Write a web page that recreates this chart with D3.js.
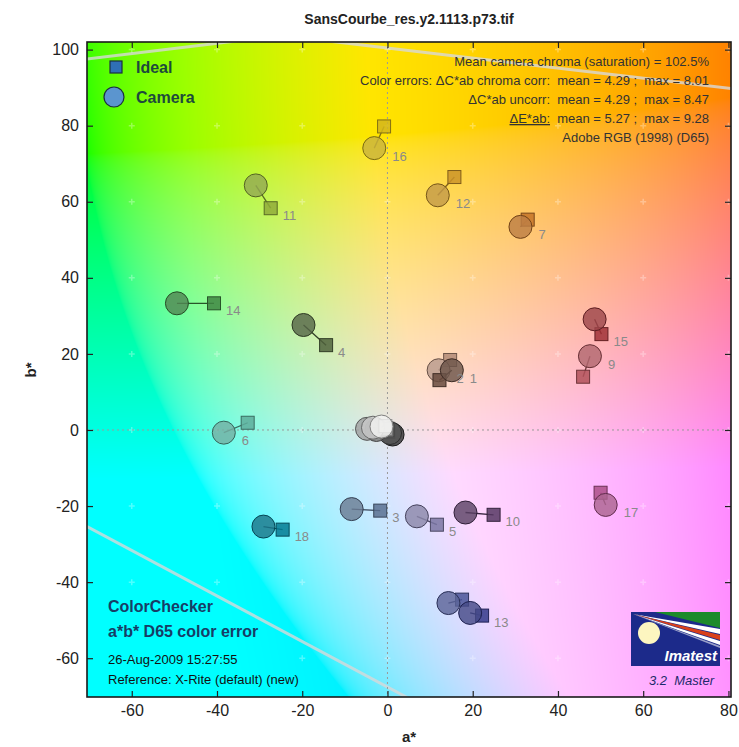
<!DOCTYPE html>
<html lang="en">
<head>
	<meta charset="UTF-8">
	<script src="https://cdnjs.cloudflare.com/ajax/libs/d3/7.8.5/d3.min.js"></script>
	<title>a*b* color error</title>
	<style>
		body { margin: 0; background: #fff; }
		svg { display: block; font-family: "Liberation Sans", Arial, sans-serif; }
		.tick text { font-family: "Liberation Sans Narrow", "Liberation Sans", sans-serif; font-size: 16px; fill: #222; }
		.tick line { stroke: #222; stroke-width: 1.2; }
		.lbl { font-size: 13px; fill: #8a8a8a; }
		.info { font-size: 13px; fill: #333; }
	</style>
</head>
<body>
	<svg width="739" height="747"></svg>

	<script>
		// ColorChecker patches, values
		const patchIds = d3.range(1, 25);
		const idealA  = [12.2, 14.7, -1.7, -14.4, 11.6, -32.8, 32.9, 17.5, 45.9, 24.9, -27.4, 15.7, 22.2, -40.7, 50.2, -0.8, 50.0, -24.6, -0.5, -0.4, -0.3, 0.0, 0.0, 0.2];
		const idealB  = [13.1, 18.4, -21.2, 22.3, -24.9, 1.9, 55.3, -44.6, 14.0, -22.3, 58.3, 66.5, -48.8, 33.3, 25.2, 79.8, -16.5, -26.2, 1.0, 0.3, 0.0, 0.0, -0.3, -0.5];
		const cameraA = [15.1, 12.0, -8.4, -19.7, 6.9, -38.4, 31.2, 14.3, 47.5, 18.3, -30.9, 11.8, 19.4, -49.4, 48.6, -3.1, 51.2, -29.1, -1.4, -3.4, -4.8, -2.6, 0.6, 1.2];
		const cameraB = [15.7, 15.7, -20.8, 27.6, -22.7, -0.7, 53.4, -45.5, 19.4, -21.7, 64.3, 61.7, -48.1, 33.3, 29.1, 74.1, -19.7, -25.4, 0.9, 0.6, 0.3, 0.0, -0.8, -1.2];
		const patchColors = ['#735244', '#c29682', '#627a9d', '#576c43', '#8580b1', '#67bdaa', '#d67e2c', '#505ba6',
			'#c15a63', '#5e3c6c', '#9dbc40', '#e0a32e', '#383d96', '#469449', '#af363c', '#e7c71f',
			'#bb5695', '#0885a1', '#f3f3f2', '#c8c8c8', '#a0a0a0', '#7a7a79', '#555555', '#343434'];
		// stacking order of the marks as seen on the chart
		const drawOrder = [2, 1, 3, 4, 5, 6, 7, 8, 9, 10, 11, 12, 13, 14, 15, 16, 17, 18, 24, 23, 22, 21, 20, 19];
		// patch 8's number is covered on the chart, neutrals carry none
		const labelled = patchIds.filter(id => id <= 18 && id !== 8);

		const xTicks = [-60, -40, -20, 0, 20, 40, 60, 80];
		const yTicks = [-60, -40, -20, 0, 20, 40, 60, 80, 100];

		const infoLines = [
			'Mean camera chroma (saturation) = 102.5%',
			'Color errors: \u0394C*ab chroma corr:  mean = 4.29 ;  max = 8.01',
			'\u0394C*ab uncorr:  mean = 4.29 ;  max = 8.47',
			'\u0394E*ab:  mean = 5.27 ;  max = 9.28',
			'Adobe RGB (1998) (D65)'
		];
		// gamut boundary traces (a*, b*)
		const gamutTop = [[-75, 96.9], [-33, 102.6], [-13.5, 102.2], [85, 89.2]];
		const gamutLow = [[-75, -22.6], [-70.5, -25.4], [4.4, -70.2], [8, -72.5]];

		const x = d3.scaleLinear().domain([-70.5, 80.6]).range([87, 731]);
		const y = d3.scaleLinear().domain([-70.2, 102]).range([697, 42]);
		const [x0, x1] = x.range(), [y1, y0] = y.range();

		const svg = d3.select('svg');
		svg.append('defs').append('clipPath').attr('id', 'plotClip')
			.append('rect').attr('x', x0).attr('y', y0).attr('width', x1 - x0).attr('height', y1 - y0);

		// a*b* background at constant lightness
		const cw = Math.round(x1 - x0), ch = Math.round(y1 - y0);
		const canvas = document.createElement('canvas');
		canvas.width = cw; canvas.height = ch;
		const ctx = canvas.getContext('2d');
		const img = ctx.createImageData(cw, ch);
		for (let j = 0; j < ch; j++) {
			const bv = y.invert(y0 + j + 0.5);
			for (let i = 0; i < cw; i++) {
				const av = x.invert(x0 + i + 0.5);
				const c = d3.lab(91, av * 1.15, bv * 1.15).rgb();
				const k = (j * cw + i) * 4;
				img.data[k] = c.r; img.data[k + 1] = c.g; img.data[k + 2] = c.b; img.data[k + 3] = 255;
			}
		}
		ctx.putImageData(img, 0, 0);
		svg.append('image').attr('x', x0).attr('y', y0).attr('width', cw).attr('height', ch)
			.attr('preserveAspectRatio', 'none').attr('href', canvas.toDataURL());

		const plot = svg.append('g').attr('clip-path', 'url(#plotClip)');

		// gamut lines
		const line = d3.line().x(d => x(d[0])).y(d => y(d[1]));
		[gamutTop, gamutLow].forEach(g => {
			plot.append('path').attr('d', line(g)).attr('fill', 'none')
				.attr('stroke', '#d8d8d8').attr('stroke-width', 3).attr('opacity', 0.8);
		});

		// faint grid crosses
		xTicks.forEach(a => yTicks.forEach(b => {
			plot.append('path')
				.attr('d', `M${x(a) - 3},${y(b)}h6M${x(a)},${y(b) - 3}v6`)
				.attr('stroke', '#fff').attr('stroke-opacity', 0.3).attr('stroke-width', 1.5);
		}));

		// dotted zero axes
		plot.append('line').attr('x1', x0).attr('x2', x1).attr('y1', y(0)).attr('y2', y(0))
			.attr('stroke', '#9a9a9a').attr('stroke-dasharray', '2,3');
		plot.append('line').attr('x1', x(0)).attr('x2', x(0)).attr('y1', y0).attr('y2', y1)
			.attr('stroke', '#9a9a9a').attr('stroke-dasharray', '2,3');

		// patch markers
		const patches = patchIds.map((id, i) => ({
			id, ia: idealA[i], ib: idealB[i], ca: cameraA[i], cb: cameraB[i], color: patchColors[i]
		}));
		const byId = new Map(patches.map(p => [p.id, p]));
		const sq = 13, r = 11.5;
		const muted = c => { const h = d3.hsl(c); h.s *= 0.7; return h.formatHex(); };

		const pg = plot.selectAll('g.patch').data(drawOrder.map(id => byId.get(id))).enter()
			.append('g').attr('class', 'patch');
		pg.append('line')
			.attr('x1', p => x(p.ia)).attr('y1', p => y(p.ib))
			.attr('x2', p => x(p.ca)).attr('y2', p => y(p.cb))
			.attr('stroke', p => d3.color(p.color).darker(1.6)).attr('stroke-width', 1.3);
		pg.append('rect')
			.attr('x', p => x(p.ia) - sq / 2).attr('y', p => y(p.ib) - sq / 2)
			.attr('width', sq).attr('height', sq)
			.attr('fill', p => d3.color(p.color).darker(0.25)).attr('fill-opacity', 0.85)
			.attr('stroke', p => d3.color(p.color).darker(1.6)).attr('stroke-width', 1);
		pg.append('circle')
			.attr('cx', p => x(p.ca)).attr('cy', p => y(p.cb)).attr('r', r)
			.attr('fill', p => muted(p.color)).attr('fill-opacity', 0.82)
			.attr('stroke', p => d3.color(p.color).darker(1.8)).attr('stroke-width', 1);

		// label goes next to whichever mark sits lower-right
		const labelAtIdeal = p => x(p.ia) > x(p.ca) && y(p.ib) >= y(p.cb);
		plot.selectAll('text.lbl').data(patches.filter(p => labelled.includes(p.id))).enter()
			.append('text').attr('class', 'lbl').attr('dy', '0.35em')
			.attr('x', p => labelAtIdeal(p) ? x(p.ia) + 12 : x(p.ca) + 18)
			.attr('y', p => labelAtIdeal(p) ? y(p.ib) + 7 : y(p.cb) + 8)
			.text(p => p.id);

		// axes with inward ticks
		const fmt = d => String(d);
		const ax = svg.append('g');
		ax.append('g').attr('transform', `translate(0,${y1})`)
			.call(d3.axisBottom(x).tickValues(xTicks).tickSize(-6).tickPadding(8).tickFormat(fmt));
		ax.append('g').attr('transform', `translate(0,${y0})`)
			.call(d3.axisTop(x).tickValues(xTicks).tickSize(-6).tickFormat(''));
		ax.append('g').attr('transform', `translate(${x0},0)`)
			.call(d3.axisLeft(y).tickValues(yTicks).tickSize(-6).tickPadding(8).tickFormat(fmt));
		ax.append('g').attr('transform', `translate(${x1},0)`)
			.call(d3.axisRight(y).tickValues(yTicks).tickSize(-6).tickFormat(''));
		ax.selectAll('.domain').remove();
		svg.append('rect').attr('x', x0).attr('y', y0).attr('width', x1 - x0).attr('height', y1 - y0)
			.attr('fill', 'none').attr('stroke', '#1a1a1a').attr('stroke-width', 1.6);

		// titles
		svg.append('text').attr('x', 409).attr('y', 24).attr('text-anchor', 'middle')
			.attr('font-size', 14).attr('font-weight', 'bold').attr('fill', '#222')
			.text('SansCourbe_res.y2.1113.p73.tif');
		svg.append('text').attr('x', 409).attr('y', 742).attr('text-anchor', 'middle')
			.attr('font-size', 15).attr('font-weight', 'bold').attr('fill', '#222').text('a*');
		svg.append('text').attr('transform', 'translate(36,370) rotate(-90)').attr('text-anchor', 'middle')
			.attr('font-size', 15).attr('font-weight', 'bold').attr('fill', '#222').text('b*');

		// legend
		svg.append('rect').attr('x', 110).attr('y', 61).attr('width', 12).attr('height', 12)
			.attr('fill', '#2f6fb6').attr('stroke', '#1c2f3f').attr('stroke-width', 1.2);
		svg.append('circle').attr('cx', 114).attr('cy', 97).attr('r', 10)
			.attr('fill', '#5b95cf').attr('stroke', '#1c2f3f').attr('stroke-width', 1.2);
		svg.append('text').attr('x', 136).attr('y', 73).attr('font-size', 16).attr('font-weight', 'bold')
			.attr('fill', '#1d4a3c').text('Ideal');
		svg.append('text').attr('x', 136).attr('y', 103).attr('font-size', 16).attr('font-weight', 'bold')
			.attr('fill', '#1d4a3c').text('Camera');

		// summary block
		const info = svg.append('g');
		infoLines.forEach((t, i) => {
			const tx = info.append('text').attr('class', 'info').attr('x', 709).attr('y', 66 + i * 19)
				.attr('text-anchor', 'end').attr('xml:space', 'preserve');
			if (i === 3) {
				tx.append('tspan').attr('text-decoration', 'underline').text('\u0394E*ab:');
				tx.append('tspan').text(t.slice(6));
			} else {
				tx.text(t);
			}
		});

		// lower-left notes
		svg.append('text').attr('x', 108).attr('y', 612).attr('font-size', 16).attr('font-weight', 'bold')
			.attr('fill', '#173d66').text('ColorChecker');
		svg.append('text').attr('x', 108).attr('y', 637).attr('font-size', 16).attr('font-weight', 'bold')
			.attr('fill', '#173d66').text('a*b* D65 color error');
		svg.append('text').attr('x', 108).attr('y', 664).attr('font-size', 13).attr('fill', '#111')
			.text('26-Aug-2009 15:27:55');
		svg.append('text').attr('x', 108).attr('y', 684).attr('font-size', 13).attr('fill', '#111')
			.text('Reference: X-Rite (default) (new)');

		// Imatest badge
		const logo = svg.append('g').attr('transform', 'translate(631,612)');
		logo.append('rect').attr('width', 89).attr('height', 54).attr('fill', '#1c2a8a');
		logo.append('path').attr('d', 'M24,0H89V16L24,0Z').attr('fill', '#1c8a2a');
		logo.append('path').attr('d', 'M2,2L89,17V22L2,2Z').attr('fill', '#fff');
		logo.append('path').attr('d', 'M2,2L89,23V28L2,2Z').attr('fill', '#d8401a');
		logo.append('path').attr('d', 'M2,2L89,29V33L2,2Z').attr('fill', '#fff');
		logo.append('path').attr('d', 'M2,2L89,34V36L2,2Z').attr('fill', '#9aa0c8');
		logo.append('circle').attr('cx', 18).attr('cy', 21).attr('r', 11).attr('fill', '#fdf6c0');
		logo.append('text').attr('x', 86).attr('y', 49).attr('text-anchor', 'end').attr('font-size', 15)
			.attr('font-weight', 'bold').attr('font-style', 'italic').attr('fill', '#fff').text('Imatest');
		svg.append('text').attr('x', 714).attr('y', 685).attr('text-anchor', 'end').attr('font-size', 13)
			.attr('font-style', 'italic').attr('fill', '#1c2a6a').attr('xml:space', 'preserve').text('3.2  Master');
	</script>
</body>
</html>
